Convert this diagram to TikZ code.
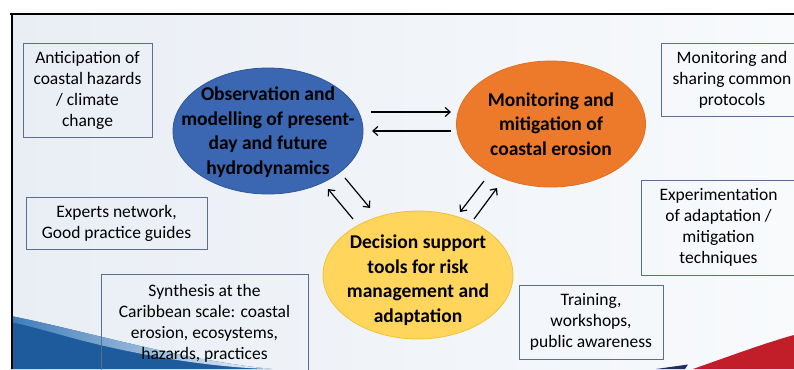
\documentclass[tikz,border=0pt]{standalone}
\usepackage{fontspec}
\setmainfont{Carlito}
\usetikzlibrary{shapes.geometric,arrows.meta,calc}
\definecolor{boxline}{HTML}{5A6E8E}
\definecolor{bluefill}{HTML}{3A66B2}
\definecolor{blueedge}{HTML}{2F5699}
\definecolor{orangefill}{HTML}{EC7A2A}
\definecolor{orangeedge}{HTML}{E07020}
\definecolor{yellowfill}{HTML}{FFD55C}
\definecolor{yellowedge}{HTML}{EFC23A}
\definecolor{bgA}{HTML}{E9EEF5}
\definecolor{bgB}{HTML}{F8FAFC}
\definecolor{wavedark}{HTML}{1E5B9C}
\definecolor{wavemid}{HTML}{3E7DBA}
\definecolor{wavelight}{HTML}{EAF1F8}
\definecolor{wavered}{HTML}{C21E2A}
\definecolor{navy}{HTML}{1F2F6A}
\begin{document}
\begin{tikzpicture}[x=1pt,y=-1pt,
  infobox/.style={draw=boxline, line width=0.9pt, align=center, inner sep=0pt,
    font=\fontsize{17.5}{21}\selectfont},
  bubble/.style={ellipse, inner sep=0pt},
  bubbletext/.style={align=center, inner sep=0pt, font=\bfseries\fontsize{19.5}{24.5}\selectfont},
  link/.style={line width=1.2pt, -{Straight Barb[length=5pt,width=9pt]}}]
\useasboundingbox (0,0) rectangle (794,369);
\clip (0,0) rectangle (794,369);
% background
\fill[white] (0,0) rectangle (794,369);
\shade[left color=bgA, right color=bgB] (11,14) rectangle (794,369);
% waves
\fill[wavedark]
  (11,316) .. controls (90,332) and (180,360) .. (272,369) -- (11,369) -- cycle;
\shade[left color=wavemid, right color=wavelight]
  (11,316) .. controls (90,332) and (180,360) .. (272,369)
  .. controls (220,368) and (150,358) .. (80,340)
  .. controls (50,332) and (30,326) .. (11,322) -- cycle;
\fill[wavered] (693,369) .. controls (730,356) and (765,343) .. (794,335) -- (794,369) -- cycle;
\fill[navy] (656,369) -- (688,364.5) -- (685,369) -- cycle;
% frame
\draw[line width=2pt] (10,14.5) -- (794,14.5);
\draw[line width=2pt] (11.5,14) -- (11.5,369);
% info boxes
\node[infobox, minimum width=129pt, minimum height=94pt] (antic) at (87.5,90)
  {Anticipation of\\coastal hazards\\/ climate\\change};
\node[infobox, minimum width=181pt, minimum height=52pt] (experts) at (116.5,223)
  {Experts network,\\Good practice guides};
\node[infobox, minimum width=207pt, minimum height=98pt] (synth) at (204.5,323)
  {Synthesis at the\\Caribbean scale: coastal\\erosion, ecosystems,\\hazards, practices};
\node[infobox, minimum width=142pt, minimum height=73pt] (share) at (732,79.5)
  {Monitoring and\\sharing common\\protocols};
\node[infobox, minimum width=155pt, minimum height=95pt] (exper) at (718.5,227.5)
  {Experimentation\\of adaptation /\\mitigation\\techniques};
\node[infobox, minimum width=144pt, minimum height=74pt] (train) at (591,322)
  {Training,\\workshops,\\public awareness};
% bubbles
\node[bubble, fill=bluefill, draw=blueedge, line width=0.8pt, minimum width=190pt, minimum height=126pt] (obs) at (268,131) {};
\node[bubble, fill=orangefill, draw=orangeedge, line width=0.8pt, minimum width=189pt, minimum height=126pt] (mon) at (551,124) {};
\node[bubble, fill=yellowfill, draw=yellowedge, line width=0.8pt, minimum width=190pt, minimum height=128pt] (dec) at (418,275) {};
\node[bubbletext] (obsT) at (268,132) {Observation and\\modelling of present-\\day and future\\hydrodynamics};
\node[bubbletext] (monT) at (551,124) {Monitoring and\\mitigation of\\coastal erosion};
\node[bubbletext] (decT) at (418,280) {Decision support\\tools for risk\\management and\\adaptation};
% arrow end points
\coordinate (a1s) at (371,112); \coordinate (a1e) at (451,112);
\coordinate (a2s) at (451,131); \coordinate (a2e) at (372,131);
\coordinate (a3s) at (345,178); \coordinate (a3e) at (370,208);
\coordinate (a4s) at (353,219); \coordinate (a4e) at (328,189);
\coordinate (a5s) at (484,181); \coordinate (a5e) at (460,212);
\coordinate (a6s) at (474,219); \coordinate (a6e) at (497,188);
\draw[link] (a1s) -- (a1e);
\draw[link] (a2s) -- (a2e);
\draw[link] (a3s) -- (a3e);
\draw[link] (a4s) -- (a4e);
\draw[link] (a5s) -- (a5e);
\draw[link] (a6s) -- (a6e);
\end{tikzpicture}
\end{document}
